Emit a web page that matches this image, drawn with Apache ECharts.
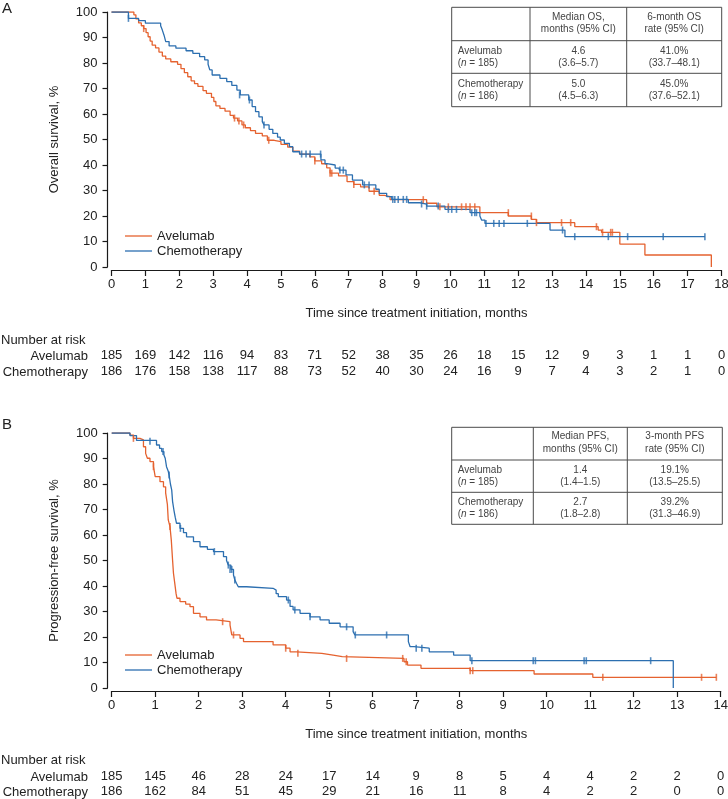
<!DOCTYPE html>
<html><head><meta charset="utf-8">
<script src="https://cdn.jsdelivr.net/npm/echarts@6/dist/echarts.min.js"></script>
<style>html,body{margin:0;padding:0;background:#fff}#c{width:728px;height:799px}</style>
</head><body><div id="c"></div>
<script>
// ---------- DATA ----------
const osMonths = [0,1,2,3,4,5,6,7,8,9,10,11,12,13,14,15,16,17,18];
const pfsMonths = [0,1,2,3,4,5,6,7,8,9,10,11,12,13,14];
const osRiskAvelumab = [185,169,142,116,94,83,71,52,38,35,26,18,15,12,9,3,1,1,0];
const osRiskChemo    = [186,176,158,138,117,88,73,52,40,30,24,16,9,7,4,3,2,1,0];
const pfsRiskAvelumab = [185,145,46,28,24,17,14,9,8,5,4,4,2,2,0];
const pfsRiskChemo    = [186,162,84,51,45,29,21,16,11,8,4,2,2,0,0];

const osAvelumab = [[0,100],[0.66,98.9],[0.72,97.3],[0.8,95.7],[0.88,94.6],[0.95,93.5],[1.02,91.9],[1.08,90.3],[1.14,88.6],[1.2,87.0],[1.3,85.9],[1.4,84.3],[1.5,82.7],[1.6,81.6],[1.75,80.5],[1.95,79.5],[2.05,77.8],[2.15,76.2],[2.25,74.6],[2.35,73.0],[2.45,71.9],[2.55,70.8],[2.7,69.2],[2.8,68.1],[2.95,66.5],[3.02,64.9],[3.08,63.2],[3.2,62.2],[3.35,61.1],[3.5,59.5],[3.6,58.4],[3.72,57.3],[3.85,55.7],[3.95,54.6],[4.1,53.5],[4.25,52.4],[4.45,51.4],[4.6,49.7],[4.8,49.2],[5.0,48.1],[5.2,47.0],[5.35,45.4],[5.55,44.3],[5.85,43.2],[6.0,41.6],[6.2,40.5],[6.35,38.9],[6.45,36.8],[6.7,35.7],[6.95,33.5],[7.15,32.4],[7.35,31.4],[7.6,29.7],[7.9,28.1],[8.05,27.6],[8.22,26.4],[9.3,25.0],[9.6,23.6],[10.87,21.3],[11.71,20.0],[12.39,18.7],[12.54,17.4],[13.67,15.8],[14.36,14.5],[14.46,13.6],[15.0,9.0],[15.74,4.7],[17.7,0]];
const osAvelumabCensor = [[0.95,93.5],[3.63,58.4],[3.76,57.3],[3.9,55.7],[4.64,49.7],[6.0,41.6],[6.45,36.8],[6.5,36.8],[7.15,32.4],[7.75,29.7],[9.2,26.4],[9.69,23.6],[9.94,23.6],[10.33,23.6],[10.46,23.6],[10.58,23.6],[10.72,23.6],[11.71,21.3],[12.39,20.0],[12.54,17.4],[13.28,17.4],[13.55,17.4],[14.31,15.8],[14.49,13.6],[14.73,13.6],[14.78,13.6]];

const osChemo = [[0,100],[0.5,97.5],[0.8,96.6],[1.0,95.6],[1.45,94.6],[1.5,92.9],[1.55,90.9],[1.6,88.4],[1.7,86.7],[1.9,85.8],[2.2,84.8],[2.4,83.8],[2.6,82.5],[2.75,81.2],[2.85,79.5],[2.9,77.3],[2.97,75.3],[3.2,74.0],[3.4,72.7],[3.55,71.2],[3.7,69.4],[3.8,67.5],[4.05,65.5],[4.15,62.9],[4.25,60.9],[4.35,58.9],[4.45,57.0],[4.5,55.7],[4.65,54.0],[4.76,52.4],[4.9,50.9],[4.98,49.8],[5.1,48.5],[5.25,47.2],[5.35,45.2],[5.55,44.3],[6.18,42.0],[6.3,40.5],[6.36,40.0],[6.6,38.8],[6.72,38.0],[6.92,36.1],[7.11,34.1],[7.41,32.2],[7.8,30.5],[7.9,28.9],[8.12,27.6],[8.27,26.5],[8.76,25.2],[9.1,24.7],[9.3,23.9],[9.84,22.6],[10.58,21.3],[10.87,20.0],[10.92,18.4],[11.02,17.1],[12.94,14.5],[13.38,11.9],[17.51,11.9]];
const osChemoCensor = [[0.5,97.5],[3.78,67.5],[4.07,65.5],[4.5,55.7],[5.61,44.3],[5.74,44.3],[5.86,44.3],[6.17,44.3],[6.74,38.0],[6.84,38.0],[7.46,32.2],[7.6,32.2],[8.3,26.5],[8.36,26.5],[8.46,26.5],[8.61,26.5],[8.71,26.5],[9.15,24.7],[9.3,23.9],[9.64,23.9],[9.94,22.6],[10.04,22.6],[10.18,22.6],[10.63,21.3],[10.72,21.3],[10.77,21.3],[11.05,17.1],[11.28,17.1],[11.44,17.1],[11.58,17.1],[12.27,17.1],[13.31,14.5],[13.67,11.9],[14.66,11.9],[15.23,11.9],[16.28,11.9],[17.51,11.9]];

const pfsAvelumab = [[0,100],[0.42,99.2],[0.5,97.9],[0.65,97.3],[0.73,94.6],[0.78,92.0],[0.82,90.1],[0.88,88.8],[0.96,86.8],[1.0,82.9],[1.11,80.9],[1.19,78.9],[1.24,76.5],[1.28,72.0],[1.3,65.9],[1.34,63.3],[1.37,58.0],[1.4,50.0],[1.42,45.0],[1.45,41.0],[1.48,37.0],[1.5,35.2],[1.57,33.9],[1.7,32.9],[1.8,31.9],[1.88,29.3],[2.03,27.9],[2.18,26.7],[2.4,26.0],[2.72,24.7],[2.76,20.8],[2.95,19.5],[3.03,18.2],[3.71,16.9],[4.0,15.6],[4.1,14.2],[4.25,13.6],[4.83,12.9],[5.09,12.3],[5.3,11.6],[6.72,10.3],[6.8,9.0],[7.11,7.7],[8.24,6.8],[9.71,5.5],[11.06,4.2],[13.9,4.2]];
const pfsAvelumabCensor = [[0.5,97.9],[0.96,86.8],[1.34,63.3],[2.55,26.0],[2.8,20.8],[4.0,15.6],[4.28,13.6],[5.4,11.6],[6.69,11.6],[6.77,10.3],[8.24,6.8],[8.3,6.8],[11.29,4.2],[13.56,4.2],[13.9,4.2]];

const pfsChemo = [[0,100],[0.42,99.0],[0.57,97.1],[1.03,95.3],[1.1,94.0],[1.15,92.7],[1.2,91.4],[1.23,90.1],[1.26,86.8],[1.3,85.0],[1.32,83.5],[1.35,80.0],[1.38,77.6],[1.4,73.1],[1.43,69.8],[1.46,67.0],[1.49,64.6],[1.57,62.6],[1.65,60.9],[1.72,59.3],[1.88,57.4],[2.03,55.4],[2.2,54.4],[2.34,53.5],[2.57,51.5],[2.64,50.0],[2.68,48.2],[2.74,46.5],[2.8,44.3],[2.83,42.4],[2.87,41.0],[2.91,39.7],[3.1,39.1],[3.71,38.4],[3.78,37.0],[3.83,35.8],[4.02,34.5],[4.1,32.0],[4.17,30.6],[4.33,29.3],[4.56,27.9],[4.79,26.7],[5.0,25.4],[5.25,24.0],[5.55,22.1],[5.59,20.8],[6.82,18.2],[6.86,16.2],[6.95,15.6],[7.3,14.2],[7.86,12.9],[8.24,10.7],[12.91,0]];
const pfsChemoCensor = [[0.88,96.8],[1.18,92.7],[1.32,83.5],[1.58,62.6],[2.36,53.5],[2.68,48.2],[2.72,46.5],[2.76,46.5],[2.83,42.4],[4.06,34.5],[4.21,30.6],[4.56,27.9],[5.4,24.0],[5.6,20.8],[6.32,20.8],[7.0,15.6],[7.13,15.6],[8.28,10.7],[9.69,10.7],[9.74,10.7],[10.86,10.7],[10.91,10.7],[12.39,10.7]];

const seriesNames = ['Avelumab', 'Chemotherapy'];
const xTitle = 'Time since treatment initiation, months';
const yTitles = ['Overall survival, %', 'Progression-free survival, %'];
const panelLabels = ['A', 'B'];
const riskTitle = 'Number at risk';

const osTableHeader = ['Median OS,\nmonths (95% CI)', '6-month OS\nrate (95% CI)'];
const osTableRows = [['Avelumab', '185', '4.6\n(3.6–5.7)', '41.0%\n(33.7–48.1)'],
                     ['Chemotherapy', '186', '5.0\n(4.5–6.3)', '45.0%\n(37.6–52.1)']];
const pfsTableHeader = ['Median PFS,\nmonths (95% CI)', '3-month PFS\nrate (95% CI)'];
const pfsTableRows = [['Avelumab', '185', '1.4\n(1.4–1.5)', '19.1%\n(13.5–25.5)'],
                      ['Chemotherapy', '186', '2.7\n(1.8–2.8)', '39.2%\n(31.3–46.9)']];

// ---------- STYLE ----------
const FONT = "'Liberation Sans', Arial, sans-serif";
const ORANGE = '#E5622F';
const BLUE = '#2C6FB0';
const AXIS = '#1a1a1a';
const TXT = '#222';

const chart = echarts.init(document.getElementById('c'), null, {renderer: 'canvas'});

function mainX(gridIndex, max, name) {
  return {
    gridIndex, type: 'value', position: 'bottom', min: 0, max, interval: 1, offset: 3,
    axisLine: {show: true, onZero: false, lineStyle: {color: AXIS, width: 1.2}},
    axisTick: {show: true, length: 6, lineStyle: {color: AXIS, width: 1.2}},
    axisLabel: {margin: 8, fontSize: 13, color: TXT, fontFamily: FONT},
    splitLine: {show: false},
    name, nameLocation: 'middle', nameGap: 37,
    nameTextStyle: {fontSize: 13, color: TXT, fontFamily: FONT}
  };
}
function riskX(gridIndex, max, arr, offset) {
  return {
    gridIndex, type: 'value', position: 'bottom', min: 0, max, interval: 1, offset,
    axisLine: {show: false, onZero: false}, axisTick: {show: false}, splitLine: {show: false},
    axisLabel: {margin: 0, fontSize: 13, color: TXT, fontFamily: FONT,
      formatter: v => { const i = Math.round(v); return arr[i] === undefined ? '' : String(arr[i]); }}
  };
}
function mainY(gridIndex, name) {
  return {
    gridIndex, type: 'value', position: 'left', min: 0, max: 100, interval: 10, offset: 4,
    axisLine: {show: true, onZero: false, lineStyle: {color: AXIS, width: 1.2}},
    axisTick: {show: true, length: 5, lineStyle: {color: AXIS, width: 1.2}},
    axisLabel: {margin: 10, fontSize: 13, color: TXT, fontFamily: FONT},
    splitLine: {show: false},
    name, nameLocation: 'middle', nameGap: 47, nameRotate: 90,
    nameTextStyle: {fontSize: 13, color: TXT, fontFamily: FONT}
  };
}
function kmLine(name, data, color, xi, yi) {
  return {type: 'line', name, data, step: 'end', symbol: 'none', showSymbol: false, xAxisIndex: xi, yAxisIndex: yi,
    lineStyle: {color, width: 1.3}, itemStyle: {color}, z: 3, silent: true};
}
function censor(name, data, color, xi, yi) {
  return {type: 'scatter', name, data, symbol: 'rect', symbolSize: [1.6, 7], xAxisIndex: xi, yAxisIndex: yi,
    itemStyle: {color}, z: 4, silent: true};
}

function table(colX, rowY, header, rows) {
  const els = [];
  const stroke = '#4a4a4a';
  els.push({type: 'rect', shape: {x: colX[0], y: rowY[0], width: colX[3] - colX[0], height: rowY[3] - rowY[0]},
    style: {fill: '#fff', stroke, lineWidth: 1}, z: 10});
  for (let i = 1; i < 3; i++) {
    els.push({type: 'line', shape: {x1: colX[i], y1: rowY[0], x2: colX[i], y2: rowY[3]}, style: {stroke, lineWidth: 1}, z: 11});
    els.push({type: 'line', shape: {x1: colX[0], y1: rowY[i], x2: colX[3], y2: rowY[i]}, style: {stroke, lineWidth: 1}, z: 11});
  }
  const ts = {fontSize: 10, fontFamily: FONT, fill: '#444', lineHeight: 12.5};
  header.forEach((h, j) => {
    els.push({type: 'text', z: 12, style: Object.assign({text: h, x: (colX[j + 1] + colX[j + 2]) / 2,
      y: (rowY[0] + rowY[1]) / 2 - 1, align: 'center', verticalAlign: 'middle'}, ts)});
  });
  rows.forEach((r, i) => {
    const cy = (rowY[i + 1] + rowY[i + 2]) / 2;
    els.push({type: 'text', z: 12, style: Object.assign({text: r[0] + '\n({i|n} = ' + r[1] + ')',
      x: colX[0] + 6, y: cy, align: 'left', verticalAlign: 'middle',
      rich: {i: {fontStyle: 'italic', fontSize: 10, fontFamily: FONT, fill: '#444'}}}, ts)});
    els.push({type: 'text', z: 12, style: Object.assign({text: r[2], x: (colX[1] + colX[2]) / 2, y: cy,
      align: 'center', verticalAlign: 'middle'}, ts)});
    els.push({type: 'text', z: 12, style: Object.assign({text: r[3], x: (colX[2] + colX[3]) / 2, y: cy,
      align: 'center', verticalAlign: 'middle'}, ts)});
  });
  return els;
}

function label(text, x, y, align, size) {
  return {type: 'text', z: 12, style: {text, x, y, align: align || 'left', verticalAlign: 'middle',
    fontSize: size || 13, fontFamily: FONT, fill: TXT}};
}

const graphics = [].concat(
  [label(panelLabels[0], 2, 9, 'left', 15), label(panelLabels[1], 2, 425, 'left', 15)],
  [label(riskTitle, 1, 340), label(seriesNames[0], 88, 356, 'right'), label(seriesNames[1], 88, 372, 'right')],
  [label(riskTitle, 1, 760), label(seriesNames[0], 88, 777, 'right'), label(seriesNames[1], 88, 792, 'right')],
  table([451.7, 530, 626.7, 721.7], [7.3, 40.7, 73.3, 106.7], osTableHeader, osTableRows),
  table([451.7, 533.3, 627.3, 722.3], [427.3, 460, 492.3, 524.3], pfsTableHeader, pfsTableRows)
);

const legendCommon = {orient: 'vertical', left: 120, itemWidth: 27, itemHeight: 1.3, itemGap: 0,
  icon: 'rect', data: seriesNames, selectedMode: false,
  textStyle: {fontSize: 13, color: TXT, fontFamily: FONT, lineHeight: 15}};

chart.setOption({
  animation: false,
  backgroundColor: '#fff',
  grid: [
    {left: 111.5, top: 12, width: 610, height: 255, containLabel: false, outerBoundsMode: 'none'},
    {left: 111.7, top: 433, width: 609, height: 255, containLabel: false, outerBoundsMode: 'none'}
  ],
  xAxis: [
    mainX(0, osMonths[osMonths.length - 1], xTitle),
    riskX(0, osMonths[osMonths.length - 1], osRiskAvelumab, 81.5),
    riskX(0, osMonths[osMonths.length - 1], osRiskChemo, 97.5),
    mainX(1, pfsMonths[pfsMonths.length - 1], xTitle),
    riskX(1, pfsMonths[pfsMonths.length - 1], pfsRiskAvelumab, 81.5),
    riskX(1, pfsMonths[pfsMonths.length - 1], pfsRiskChemo, 97)
  ],
  yAxis: [mainY(0, yTitles[0]), mainY(1, yTitles[1])],
  legend: [
    Object.assign({top: 223.5}, legendCommon),
    Object.assign({top: 642.5}, legendCommon)
  ],
  series: [
    kmLine(seriesNames[0], osAvelumab, ORANGE, 0, 0),
    kmLine(seriesNames[1], osChemo, BLUE, 0, 0),
    censor('osAveCens', osAvelumabCensor, ORANGE, 0, 0),
    censor('osChemoCens', osChemoCensor, BLUE, 0, 0),
    kmLine(seriesNames[0], pfsAvelumab, ORANGE, 3, 1),
    kmLine(seriesNames[1], pfsChemo, BLUE, 3, 1),
    censor('pfsAveCens', pfsAvelumabCensor, ORANGE, 3, 1),
    censor('pfsChemoCens', pfsChemoCensor, BLUE, 3, 1)
  ],
  graphic: graphics
});
</script>
</body></html>
